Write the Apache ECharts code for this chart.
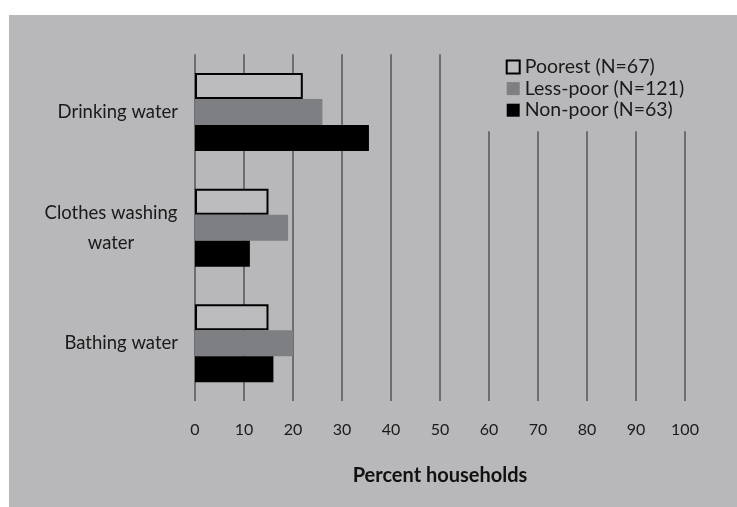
<!DOCTYPE html>
<html>
<head>
<meta charset="utf-8">
<script src="https://cdn.jsdelivr.net/npm/echarts@6/dist/echarts.min.js"></script>
<style>
html,body{margin:0;padding:0;background:#ffffff;width:737px;height:507px;overflow:hidden;}
#chart{position:absolute;left:9px;top:15px;width:728px;height:492px;background:#b8b8bb;}
</style>
</head>
<body>
<div id="chart"></div>
<script>
const categories = ['Drinking water', 'Clothes washing\nwater', 'Bathing water'];
const seriesNames = ['Poorest (N=67)', 'Less-poor (N=121)', 'Non-poor (N=63)'];
const poorest = [22, 15, 15];
const lessPoor = [26, 19, 20];
const nonPoor = [35.5, 11.2, 16];
const xTicks = [0, 10, 20, 30, 40, 50, 60, 70, 80, 90, 100];
const axisTitle = 'Percent households';

const FONT = 'Lato';
const chart = echarts.init(document.getElementById('chart'));
const option = {
  backgroundColor: 'transparent',
  animation: false,
  textStyle: { fontFamily: FONT },
  grid: { left: 186, right: 52, top: 39.3, bottom: 106, containLabel: false },
  legend: {
    orient: 'vertical',
    left: 476.7,
    top: 30,
    padding: [12, 20, 11, 20],
    backgroundColor: '#b8b8bb',
    icon: 'rect',
    itemWidth: 13,
    itemHeight: 13,
    itemGap: 1.6,
    textStyle: { fontFamily: FONT, fontSize: 19.5, color: '#1a1a1a', lineHeight: 19.4 },
    data: [
      { name: seriesNames[0], itemStyle: { color: '#bcbcbf', borderColor: '#000', borderWidth: 2 } },
      { name: seriesNames[1], itemStyle: { color: '#7e7f83', borderWidth: 0 } },
      { name: seriesNames[2], itemStyle: { color: '#000000', borderWidth: 0 } }
    ]
  },
  xAxis: {
    type: 'value',
    min: xTicks[0],
    max: xTicks[xTicks.length - 1],
    interval: 10,
    name: axisTitle,
    nameLocation: 'middle',
    nameGap: 65,
    nameTextStyle: { fontFamily: FONT, fontSize: 20, fontWeight: 'bold', color: '#111' },
    axisLine: { show: false },
    axisTick: { show: false },
    axisLabel: { fontFamily: FONT, fontSize: 16, color: '#1a1a1a', margin: 21 },
    splitLine: { show: true, lineStyle: { color: '#555558', width: 1.5 } }
  },
  yAxis: {
    type: 'category',
    data: categories,
    inverse: true,
    axisLine: { show: false },
    axisTick: { show: false },
    splitLine: { show: false },
    axisLabel: {
      margin: 17,
      fontFamily: FONT,
      fontSize: 18.5,
      color: '#1a1a1a',
      formatter: function (v) {
        if (v.indexOf('\n') >= 0) {
          return v.split('\n').map(function (s) { return '{c|' + s + '}'; }).join('\n');
        }
        return v;
      },
      rich: {
        c: { width: 134, align: 'center', fontFamily: FONT, fontSize: 18.5, color: '#1a1a1a', lineHeight: 30 }
      }
    }
  },
  series: [
    { name: seriesNames[0], type: 'bar', data: poorest, barWidth: 26, barGap: '0%',
      itemStyle: { color: '#bcbcbf', borderColor: '#000', borderWidth: 2 } },
    { name: seriesNames[1], type: 'bar', data: lessPoor, barWidth: 26, barGap: '0%',
      itemStyle: { color: '#7e7f83' } },
    { name: seriesNames[2], type: 'bar', data: nonPoor, barWidth: 26, barGap: '0%',
      itemStyle: { color: '#000000' } }
  ]
};
chart.setOption(option);
</script>
</body>
</html>
